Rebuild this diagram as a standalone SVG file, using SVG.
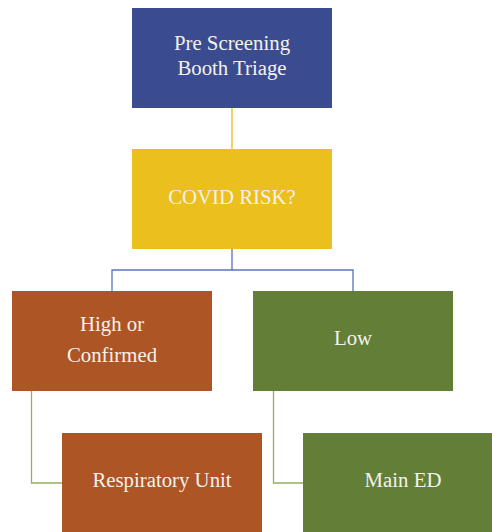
<svg xmlns="http://www.w3.org/2000/svg" width="492" height="532" viewBox="0 0 492 532">
<style>
.t{font-family:"Liberation Serif","Times New Roman",serif;font-size:20.8px;fill:#F4F1EC;text-anchor:middle}
.c{fill:none;stroke-width:1.3}
</style>
<rect width="492" height="532" fill="#FFFFFF"/>
<g id="connectors">
<path class="c" stroke="#E9BC22" d="M232 108V149"/>
<path class="c" stroke="#5B72C2" d="M232 249V270H112V291M232 270H353V291"/>
<path class="c" stroke="#8DB35E" d="M31.5 391V483H62"/>
<path class="c" stroke="#8DB35E" d="M273.5 391V483H303"/>
</g>
<g id="prescreening"><rect x="132" y="8" width="200" height="100" fill="#3A4C8F"/><text class="t" x="232" y="50">Pre Screening</text><text class="t" x="232" y="75">Booth Triage</text></g>
<g id="covidrisk"><rect x="132" y="149" width="200" height="100" fill="#EBBF1E"/><text class="t" x="232" y="204">COVID RISK?</text></g>
<g id="high"><rect x="12" y="291" width="200" height="100" fill="#AD5524"/><text class="t" x="112" y="331">High or</text><text class="t" x="112" y="362">Confirmed</text></g>
<g id="low"><rect x="253" y="291" width="200" height="100" fill="#637F37"/><text class="t" x="353" y="345">Low</text></g>
<g id="respiratory"><rect x="62" y="433" width="200" height="100" fill="#AD5524"/><text class="t" x="162" y="487">Respiratory Unit</text></g>
<g id="mained"><rect x="303" y="433" width="200" height="100" fill="#637F37"/><text class="t" x="403" y="487">Main ED</text></g>
</svg>
